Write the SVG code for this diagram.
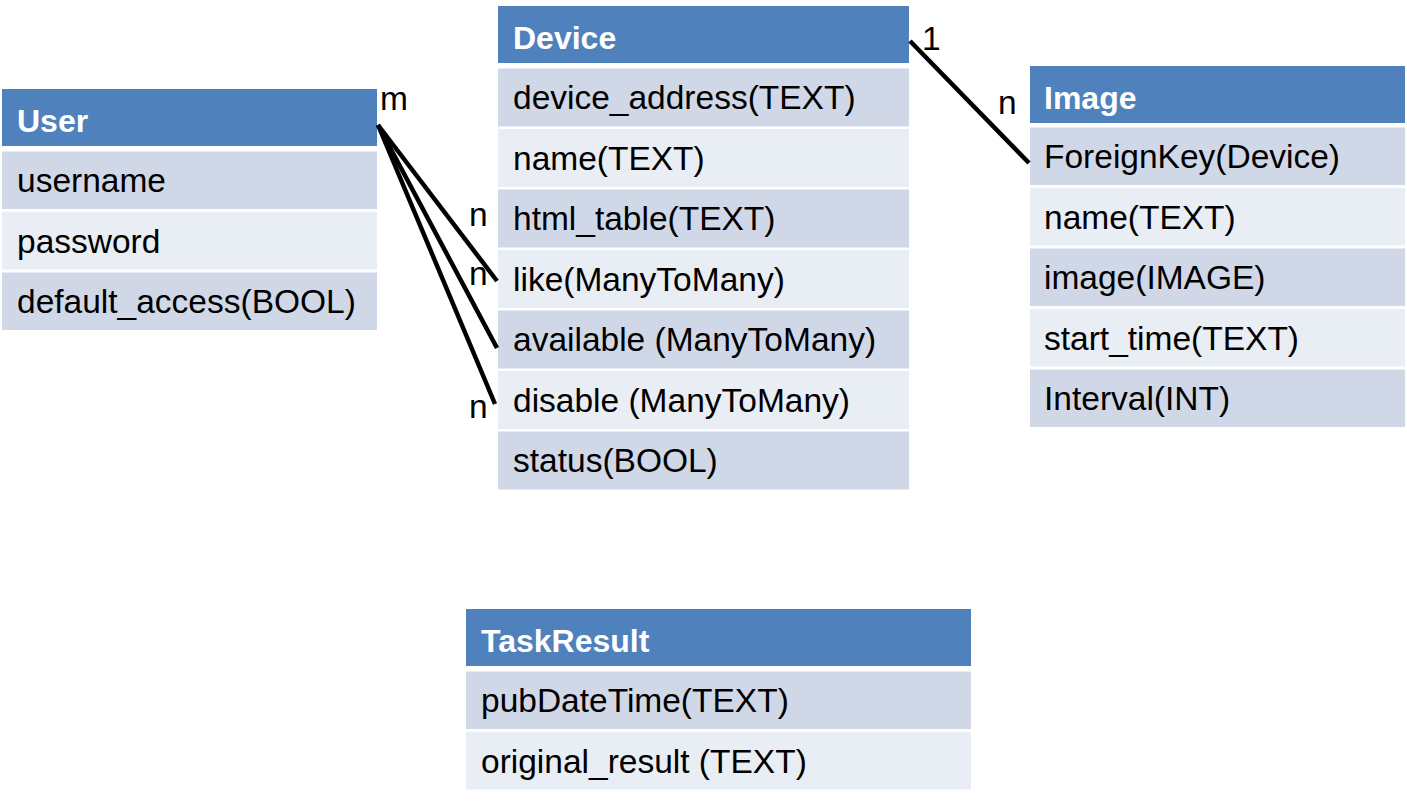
<svg xmlns="http://www.w3.org/2000/svg" width="1407" height="806" viewBox="0 0 1407 806">
<style>
.hd{fill:#4F81BD}
.dk{fill:#D0D8E8}
.lt{fill:#E9EDF4}
.ht{font-family:"Liberation Sans",Arial,sans-serif;font-weight:bold;font-size:32px;fill:#FFFFFF}
.tx{font-family:"Liberation Sans",Arial,sans-serif;font-size:33.5px;fill:#000000}
.ln{stroke:#000000;stroke-width:4.5;fill:none}
</style>
<rect width="1407" height="806" fill="#FFFFFF"/>
<g id="user">
<rect class="hd" x="2" y="89" width="375" height="57"/>
<rect class="dk" x="2" y="151.5" width="375" height="57.5"/>
<rect class="lt" x="2" y="212" width="375" height="57.5"/>
<rect class="dk" x="2" y="272.5" width="375" height="57.5"/>
<text class="ht" x="17" y="131.5">User</text>
<text class="tx" x="17" y="192">username</text>
<text class="tx" x="17" y="252.5">password</text>
<text class="tx" x="17" y="313">default_access(BOOL)</text>
</g>
<g id="device">
<rect class="hd" x="498" y="6" width="411" height="57"/>
<rect class="dk" x="498" y="68.5" width="411" height="58"/>
<rect class="lt" x="498" y="129" width="411" height="58"/>
<rect class="dk" x="498" y="189.5" width="411" height="58"/>
<rect class="lt" x="498" y="250" width="411" height="58"/>
<rect class="dk" x="498" y="310.5" width="411" height="58"/>
<rect class="lt" x="498" y="371" width="411" height="58"/>
<rect class="dk" x="498" y="431.5" width="411" height="58"/>
<text class="ht" x="513" y="48.5">Device</text>
<text class="tx" x="513" y="109">device_address(TEXT)</text>
<text class="tx" x="513" y="169.5">name(TEXT)</text>
<text class="tx" x="513" y="230">html_table(TEXT)</text>
<text class="tx" x="513" y="290.5">like(ManyToMany)</text>
<text class="tx" x="513" y="351">available (ManyToMany)</text>
<text class="tx" x="513" y="411.5">disable (ManyToMany)</text>
<text class="tx" x="513" y="472">status(BOOL)</text>
</g>
<g id="image">
<rect class="hd" x="1030" y="66" width="375" height="57"/>
<rect class="dk" x="1030" y="127.5" width="375" height="57.5"/>
<rect class="lt" x="1030" y="188" width="375" height="57.5"/>
<rect class="dk" x="1030" y="248.5" width="375" height="57.5"/>
<rect class="lt" x="1030" y="309" width="375" height="57.5"/>
<rect class="dk" x="1030" y="369.5" width="375" height="57.5"/>
<text class="ht" x="1044" y="108.5">Image</text>
<text class="tx" x="1044" y="168">ForeignKey(Device)</text>
<text class="tx" x="1044" y="228.5">name(TEXT)</text>
<text class="tx" x="1044" y="289">image(IMAGE)</text>
<text class="tx" x="1044" y="349.5">start_time(TEXT)</text>
<text class="tx" x="1044" y="410">Interval(INT)</text>
</g>
<g id="taskresult">
<rect class="hd" x="466" y="609" width="505" height="57"/>
<rect class="dk" x="466" y="671.5" width="505" height="57.5"/>
<rect class="lt" x="466" y="732" width="505" height="57.5"/>
<text class="ht" x="481" y="651.5">TaskResult</text>
<text class="tx" x="481" y="712">pubDateTime(TEXT)</text>
<text class="tx" x="481" y="772.5">original_result (TEXT)</text>
</g>
<g id="connectors">
<line class="ln" x1="378" y1="125" x2="497" y2="281"/>
<line class="ln" x1="378" y1="125" x2="497" y2="348"/>
<line class="ln" x1="378" y1="125" x2="495" y2="404"/>
<line class="ln" x1="910" y1="41" x2="1029" y2="163"/>
<text class="tx" x="380" y="110">m</text>
<text class="tx" x="469" y="226">n</text>
<text class="tx" x="469" y="285">n</text>
<text class="tx" x="469" y="418">n</text>
<text class="tx" x="922" y="50">1</text>
<text class="tx" x="998" y="114">n</text>
</g>
</svg>
